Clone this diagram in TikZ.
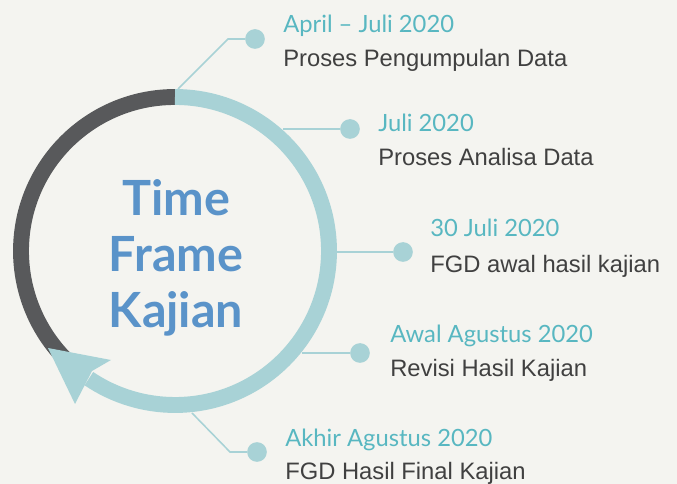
\documentclass[tikz,border=0pt]{standalone}
\usepackage{fontspec}
\setmainfont{Liberation Sans}
\newfontfamily\latofont{Lato}
\usetikzlibrary{positioning}
\definecolor{bgpaper}{HTML}{F4F4F0}
\definecolor{ringlight}{HTML}{A8D2D6}
\definecolor{ringdark}{HTML}{58595B}
\definecolor{datecol}{HTML}{58B7C1}
\definecolor{titlecol}{HTML}{5A93C9}
\definecolor{desccol}{HTML}{404040}

\begin{document}
\begin{tikzpicture}[x=0.025cm, y=0.025cm,
  dot/.style={circle, fill=ringlight, inner sep=0pt, minimum size=14pt},
  link/.style={draw=ringlight, line width=1.1pt},
  datelbl/.style={anchor=base west, inner sep=0pt, text=datecol,
    font=\latofont\fontsize{16.9}{21}\selectfont},
  desclbl/.style={anchor=base west, inner sep=0pt, text=desccol,
    font=\fontsize{16.9}{20}\selectfont}]
\fill[bgpaper] (0,0) rectangle (677,484);
\useasboundingbox (0,0) rectangle (677,484);

\coordinate (c) at (175,233);

% dots
\node (d1) [dot] at (255,445) {};
\node (d2) [dot] at (350,355) {};
\node (d3) [dot] at (403,232) {};
\node (d4) [dot] at (360,131) {};
\node (d5) [dot] at (257,32) {};

% connectors
\coordinate (r1) at (178,395);
\coordinate (k1) at (228,445);
\coordinate (r2) at (283,355);
\coordinate (r3) at (330,232);
\coordinate (r4) at (302,131);
\coordinate (r5) at (192,71);
\coordinate (k5) at (230,32);
\draw[link] (r1) -- (k1) -- (d1);
\draw[link] (r2) -- (d2);
\draw[link] (r3) -- (d3);
\draw[link] (r4) -- (d4);
\draw[link] (r5) -- (k5) -- (d5);

% ring
\draw[ringdark, line width=11.3pt] (c) ++(90:154) arc[start angle=90, end angle=225, radius=154];
\draw[ringlight, line width=11.3pt] (c) ++(90:154) arc[start angle=90, end angle=-124, radius=154];
\fill[ringlight] (48,136) -- (111,124) -- (92,113) -- (75,80) -- cycle;

\node (title) [anchor=base, align=center, text=titlecol,
  font=\latofont\bfseries\fontsize{34.5}{40}\selectfont] at (176,156) {Time\\Frame\\Kajian};

% labels
\node (t1) [datelbl] at (283,451) {April – Juli 2020};
\node (s1) [desclbl] at (283,417) {Proses Pengumpulan Data};
\node (t2) [datelbl] at (378,352) {Juli 2020};
\node (s2) [desclbl] at (378,318) {Proses Analisa Data};
\node (t3) [datelbl] at (430,247) {30 Juli 2020};
\node (s3) [desclbl] at (430,211) {FGD awal hasil kajian};
\node (t4) [datelbl] at (390,141) {Awal Agustus 2020};
\node (s4) [desclbl] at (390,107) {Revisi Hasil Kajian};
\node (t5) [datelbl] at (285,37) {Akhir Agustus 2020};
\node (s5) [desclbl] at (285,4) {FGD Hasil Final Kajian};
\end{tikzpicture}
\end{document}
